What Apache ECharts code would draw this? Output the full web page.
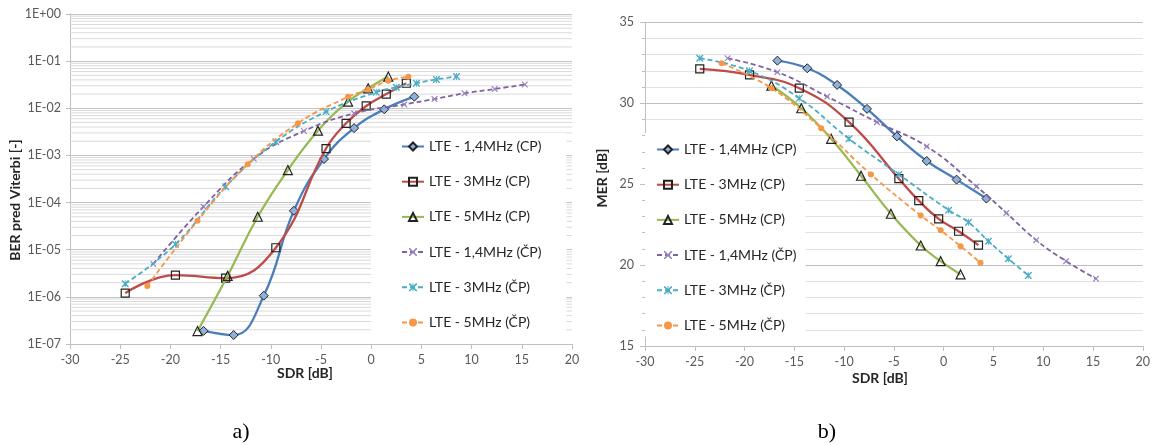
<!DOCTYPE html>
<html><head><meta charset="utf-8">
<script src="https://cdn.jsdelivr.net/npm/echarts@6/dist/echarts.min.js"></script>
<style>html,body{margin:0;padding:0;background:#fff}#c{width:1153px;height:445px}</style>
</head><body><div id="c"></div>
<script>
// ---- data ----
const seriesNames = ['LTE - 1,4MHz (CP)','LTE - 3MHz (CP)','LTE - 5MHz (CP)','LTE - 1,4MHz (ČP)','LTE - 3MHz (ČP)','LTE - 5MHz (ČP)'];
const sdr14CP  = [-16.7,-13.7,-10.7,-7.7,-4.7,-1.7,1.3,4.3];
const sdr3CP   = [-24.5,-19.5,-14.5,-9.5,-4.5,-2.5,-0.5,1.5,3.5];
const sdr5CP   = [-17.3,-14.3,-11.3,-8.3,-5.3,-2.3,-0.3,1.7];
const sdr14CzP = [-21.7,-16.7,-11.7,-6.7,-1.7,3.3,6.3,9.3,12.3,15.3];
const sdr3CzP  = [-24.5,-19.5,-14.5,-9.5,-4.5,0.5,2.5,4.5,6.5,8.5];
const sdr5CzP  = [-22.3,-17.3,-12.3,-7.3,-2.3,-0.3,1.7,3.7];

const ber14CP  = [1.9e-7,1.55e-7,1.06e-6,6.7e-5,8.4e-4,3.8e-3,9.5e-3,1.76e-2];
const ber3CP   = [1.2e-6,2.9e-6,2.5e-6,1.1e-5,1.4e-3,4.8e-3,1.12e-2,2.0e-2,3.4e-2];
const ber5CP   = [1.88e-7,2.8e-6,5.0e-5,4.9e-4,3.35e-3,1.38e-2,2.65e-2,4.7e-2];
const ber14CzP = [5e-6,8.2e-5,8.5e-4,3.3e-3,7.8e-3,1.21e-2,1.57e-2,2.08e-2,2.56e-2,3.2e-2];
const ber3CzP  = [1.9e-6,1.3e-5,2.17e-4,1.95e-3,8.5e-3,2.2e-2,2.8e-2,3.4e-2,4.1e-2,4.7e-2];
const ber5CzP  = [1.7e-6,4.1e-5,6.5e-4,4.8e-3,1.75e-2,2.5e-2,3.85e-2,4.65e-2];

const mer14CP  = [32.63,32.16,31.13,29.65,27.95,26.43,25.28,24.11];
const mer3CP   = [32.12,31.75,30.93,28.83,25.34,23.98,22.85,22.09,21.23];
const mer5CP   = [31.09,29.69,27.8,25.52,23.17,21.21,20.24,19.42];
const mer14CzP = [32.78,31.92,30.41,28.83,27.33,24.86,23.22,21.54,20.24,19.16];
const mer3CzP  = [32.78,32.0,30.3,27.8,25.6,23.39,22.64,21.47,20.39,19.36];
const mer5CzP  = [32.47,30.93,28.46,25.6,23.06,22.15,21.17,20.14];

const berTickLabels = ['1E-07','1E-06','1E-05','1E-04','1E-03','1E-02','1E-01','1E+00'];
const berDecades = [1e-7,1e-6,1e-5,1e-4,1e-3,1e-2,1e-1];
const minorMultipliers = [2,3,4,5,6,7,8,9];
const sdrTicks = [-30,20,5];   // min, max, step
const merTicks = [15,35,5];

// ---- styles ----
const FONT = 'Lato';
const xPath = 'path://M0,0L1.4,0L5,3.6L8.6,0L10,0L10,1.4L6.4,5L10,8.6L10,10L8.6,10L5,6.4L1.4,10L0,10L0,8.6L3.6,5L0,1.4Z';
const starPath = 'path://M0,0L1.4,0L5,3.6L8.6,0L10,0L10,1.4L6.4,5L10,8.6L10,10L8.6,10L5,6.4L1.4,10L0,10L0,8.6L3.6,5L0,1.4ZM4.4,0L5.6,0L5.6,10L4.4,10Z';
const styles = [
  {line:'#4A7EBB', type:'solid', w:2.3, symbol:'diamond', size:9, fill:'#8FB0DC', border:'#222', bw:1},
  {line:'#BE4B48', type:'solid', w:2.3, symbol:'rect', size:8, fill:'rgba(255,255,255,0)', border:'#222', bw:1.2},
  {line:'#98B954', type:'solid', w:2.3, symbol:'triangle', size:9, fill:'rgba(255,255,255,0)', border:'#222', bw:1.2},
  {line:'#7E62A1', type:[5,3], w:1.8, symbol:xPath, size:6, fill:'#9a84bf', border:null, bw:0},
  {line:'#4BACC6', type:[5,3], w:1.8, symbol:starPath, size:7, fill:'#4BACC6', border:null, bw:0},
  {line:'#F79646', type:[5,3], w:1.8, symbol:'circle', size:6, fill:'#F79646', border:null, bw:0}
];
const leftX = [sdr14CP,sdr3CP,sdr5CP,sdr14CzP,sdr3CzP,sdr5CzP];
const leftY = [ber14CP,ber3CP,ber5CP,ber14CzP,ber3CzP,ber5CzP];
const rightY = [mer14CP,mer3CP,mer5CP,mer14CzP,mer3CzP,mer5CzP];

function mkSeries(i, ys, axisIdx) {
  const s = styles[i];
  return {
    name: seriesNames[i], type:'line', xAxisIndex:axisIdx, yAxisIndex:axisIdx,
    data: leftX[i].map((x,k)=>[x, ys[k]]),
    smooth: 0.45, symbol: s.symbol, symbolSize: s.size, showSymbol:true,
    lineStyle:{color:s.line, width:s.w, type:s.type},
    itemStyle:{color:s.fill, borderColor:s.border||s.fill, borderWidth:s.bw},
    emphasis:{disabled:true}, animation:false, z:3+i
  };
}

const series = [];
// minor log gridlines (2..9 x each decade) drawn through the log axis
berDecades.forEach(d => minorMultipliers.forEach(m => {
  const v = d*m;
  series.push({type:'line', xAxisIndex:0, yAxisIndex:0, silent:true, z:1, symbol:'none',
    data:[[sdrTicks[0], v],[sdrTicks[1], v]],
    lineStyle:{color:'#dadada', width:1, type:'solid'}, emphasis:{disabled:true}, animation:false});
}));
for (let i=0;i<6;i++) series.push(mkSeries(i, leftY[i], 0));
for (let i=0;i<6;i++) series.push(mkSeries(i, rightY[i], 1));

const axisCommon = {
  axisLine:{show:true, onZero:false, lineStyle:{color:'#bfbfbf', width:1}},
  axisTick:{show:true, length:5, lineStyle:{color:'#bfbfbf'}},
  axisLabel:{color:'#595959', fontFamily:FONT, fontSize:12.5, margin:9}
};
function xAxis(gi){
  return Object.assign({}, axisCommon, {type:'value', gridIndex:gi, min:sdrTicks[0], max:sdrTicks[1], interval:sdrTicks[2], splitLine:{show:false}});
}
const legendCommon = {
  data: seriesNames, orient:'vertical', itemWidth:22, itemHeight:10, itemGap:21.2,
  backgroundColor:'#ffffff', selectedMode:false,
  textStyle:{fontFamily:FONT, fontSize:14, color:'#262626'}
};
const titleFont = 'bold 14px ' + FONT;
const option = {
  backgroundColor:'#ffffff',
  animation:false,
  grid:[
    {left:70, top:14, width:502, height:330},
    {left:645, top:22.3, width:498, height:323.7}
  ],
  xAxis:[xAxis(0), xAxis(1)],
  yAxis:[
    Object.assign({}, axisCommon, {type:'log', logBase:10, gridIndex:0, min:1e-7, max:1,
      axisTick:{show:true, length:4, lineStyle:{color:'#bfbfbf'}},
      axisLabel:{color:'#595959', fontFamily:FONT, fontSize:12.5, margin:9,
        formatter: v => berTickLabels[Math.round(Math.log10(v))+7]},
      splitLine:{show:true, lineStyle:{color:'#c4c4c4', width:1}}}),
    Object.assign({}, axisCommon, {type:'value', gridIndex:1, min:merTicks[0], max:merTicks[1], interval:merTicks[2],
      axisLabel:{color:'#595959', fontFamily:FONT, fontSize:12.5, margin:11},
      minorTick:{show:true, splitNumber:5, length:3, lineStyle:{color:'#bfbfbf'}},
      splitLine:{show:true, lineStyle:{color:'#bdbdbd', width:1}},
      minorSplitLine:{show:true, lineStyle:{color:'#e2e2e2', width:1}}})
  ],
  legend:[
    Object.assign({}, legendCommon, {left:371, top:133, padding:[6.5,25,2,30]}),
    Object.assign({}, legendCommon, {left:645, top:133, padding:[9.5,9,4,11]})
  ],
  graphic:[
    {type:'text', x:15, y:200, rotation:Math.PI/2, style:{text:'BER pred Viterbi [-]', font:titleFont, fill:'#262626', align:'center', verticalAlign:'middle'}},
    {type:'text', x:305, y:373, style:{text:'SDR [dB]', font:titleFont, fill:'#262626', align:'center', verticalAlign:'middle'}},
    {type:'text', x:602, y:178, rotation:Math.PI/2, style:{text:'MER [dB]', font:titleFont, fill:'#262626', align:'center', verticalAlign:'middle'}},
    {type:'text', x:880, y:378, style:{text:'SDR [dB]', font:titleFont, fill:'#262626', align:'center', verticalAlign:'middle'}},
    {type:'text', x:241, y:432, style:{text:'a)', font:'22px "Liberation Serif"', fill:'#000', align:'center', verticalAlign:'middle'}},
    {type:'text', x:827, y:432, style:{text:'b)', font:'22px "Liberation Serif"', fill:'#000', align:'center', verticalAlign:'middle'}}
  ],
  series: series
};
const chart = echarts.init(document.getElementById('c'), null, {renderer:'canvas'});
chart.setOption(option);
</script>
</body></html>
